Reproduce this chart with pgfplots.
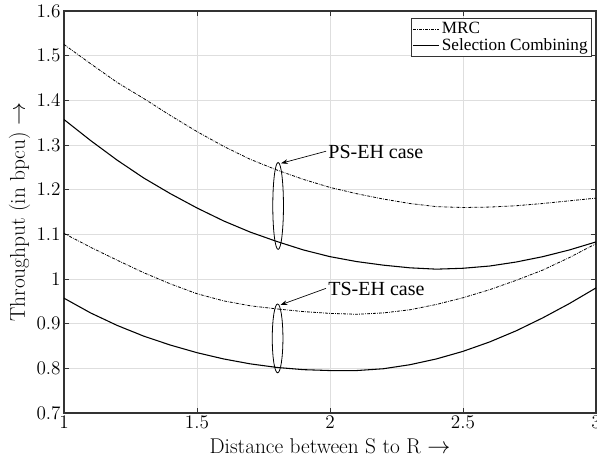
\documentclass[border=0pt]{standalone}
\usepackage{fontspec}
\newfontfamily\tnr{Liberation Serif}
\usepackage{pgfplots}
\pgfplotsset{compat=1.18}
\usetikzlibrary{arrows.meta}
\begin{document}
\begin{tikzpicture}
\begin{axis}[
  scale only axis, width=399pt, height=301.5pt,
  xmin=1, xmax=3, ymin=0.7, ymax=1.6,
  xtick={1,1.5,2,2.5,3},
  ytick={0.7,0.8,0.9,1,1.1,1.2,1.3,1.4,1.5,1.6},
  grid=major, grid style={black!13, line width=0.6pt},
  axis line style={black!80, line width=0.9pt},
  tick style={black!80, line width=0.6pt}, tick align=inside, major tick length=4pt,
  ticklabel style={font=\fontsize{14.5}{16}\selectfont},
  xticklabel style={yshift=1pt},
  yticklabel style={xshift=1pt},
  xlabel={Distance between S to R $\rightarrow$},
  ylabel={Throughput (in bpcu) $\rightarrow$},
  label style={font=\fontsize{16}{18}\selectfont},
  xlabel style={yshift=-0.5pt},
  ylabel style={yshift=-2pt},
  legend style={at={(0.9925,0.9826)}, anchor=north east, draw=black!80, line width=0.6pt,
    font=\tnr\fontsize{12.9}{14}\selectfont, inner sep=1pt, row sep=-2pt, cells={anchor=west}},
  legend cell align=left,
  legend image code/.code={\draw[#1] (0cm,0cm) -- (0.68cm,0cm);},
]
\addplot[black, line width=0.6pt, dash pattern=on 2.2pt off 0.9pt on 0.5pt off 0.9pt] coordinates {
(1.0,1.525) (1.1,1.482) (1.2,1.440) (1.3,1.404) (1.4,1.366) (1.5,1.330) (1.6,1.297)
(1.7,1.268) (1.8,1.244) (1.9,1.223) (2.0,1.205) (2.1,1.191) (2.2,1.179) (2.3,1.169)
(2.4,1.162) (2.5,1.160) (2.6,1.161) (2.7,1.164) (2.8,1.169) (2.9,1.175) (3.0,1.181)};
\addlegendentry{MRC}
\addplot[black, line width=0.8pt] coordinates {
(1.0,1.357) (1.1,1.310) (1.2,1.266) (1.3,1.226) (1.4,1.191) (1.5,1.159) (1.6,1.130)
(1.7,1.105) (1.8,1.084) (1.9,1.065) (2.0,1.050) (2.1,1.039) (2.2,1.031) (2.3,1.025)
(2.4,1.022) (2.5,1.024) (2.6,1.029) (2.7,1.038) (2.8,1.050) (2.9,1.065) (3.0,1.083)};
\addlegendentry{Selection Combining}
\addplot[black, line width=0.6pt, dash pattern=on 2.2pt off 0.9pt on 0.5pt off 0.9pt] coordinates {
(1.0,1.102) (1.1,1.071) (1.2,1.042) (1.3,1.014) (1.4,0.989) (1.5,0.967) (1.6,0.951)
(1.7,0.940) (1.8,0.933) (1.9,0.927) (2.0,0.923) (2.1,0.921) (2.2,0.924) (2.3,0.931)
(2.4,0.943) (2.5,0.958) (2.6,0.976) (2.7,0.997) (2.8,1.020) (2.9,1.048) (3.0,1.079)};
\addplot[black, line width=0.8pt] coordinates {
(1.0,0.957) (1.1,0.924) (1.2,0.896) (1.3,0.872) (1.4,0.852) (1.5,0.835) (1.6,0.821)
(1.7,0.810) (1.8,0.802) (1.9,0.797) (2.0,0.795) (2.1,0.795) (2.2,0.799) (2.3,0.808)
(2.4,0.821) (2.5,0.838) (2.6,0.859) (2.7,0.884) (2.8,0.913) (2.9,0.945) (3.0,0.980)};
% annotations
\draw[black, line width=0.6pt] (axis cs:1.805,1.1635) ellipse [x radius=4pt, y radius=32.6pt];
\draw[black, line width=0.6pt] (axis cs:1.803,0.867) ellipse [x radius=4pt, y radius=25.8pt];
\draw[black, line width=0.5pt, -{Stealth[length=5pt,width=3.5pt]}] (axis cs:1.985,1.286) -- (axis cs:1.816,1.259);
\draw[black, line width=0.5pt, -{Stealth[length=5pt,width=3.5pt]}] (axis cs:1.985,0.979) -- (axis cs:1.814,0.942);
\node[anchor=west, inner sep=0pt, font=\tnr\fontsize{15}{17}\selectfont] at (axis cs:1.993,1.285) {PS-EH case};
\node[anchor=west, inner sep=0pt, font=\tnr\fontsize{15}{17}\selectfont] at (axis cs:1.993,0.978) {TS-EH case};
\end{axis}
\pgfresetboundingbox
\path[use as bounding box] ([shift={(-48pt,-35.25pt)}]current axis.south west) rectangle ([shift={(0.75pt,8.25pt)}]current axis.north east);
\end{tikzpicture}
\end{document}
